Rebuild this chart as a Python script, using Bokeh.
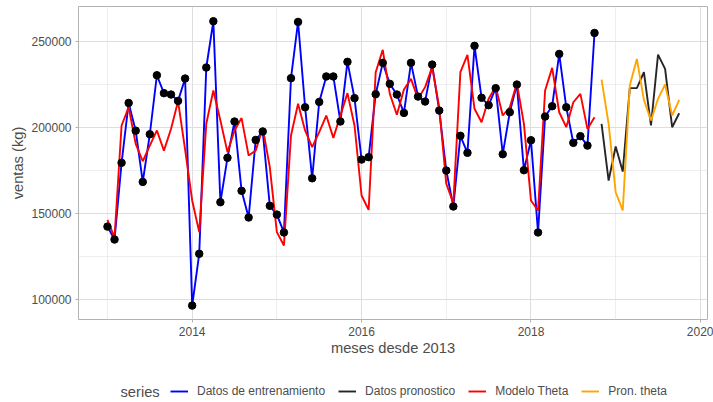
import numpy as np
from bokeh.plotting import figure
from bokeh.layouts import column
from bokeh.models import Range1d, FixedTicker, Legend, LegendItem, BasicTickFormatter
from bokeh.core.properties import value
from bokeh.embed import file_html
from bokeh.resources import INLINE

# Monthly series starting Jan 2013
anio_inicio = 2013
ventas_entrenamiento = [
    142200, 134700, 179300, 214100, 198000, 168200, 195900, 230200, 219800, 219000, 215300, 228300,
    96300, 126400, 234700, 261600, 156400, 182200, 203300, 163000, 147500, 192600, 197500, 154300,
    149200, 138800, 228500, 261200, 211600, 170300, 214700, 229500, 229500, 203300, 238000, 216900,
    181200, 182600, 219200, 237400, 225200, 219000, 208300, 237400, 217800, 214900, 236400, 209700,
    174800, 153900, 195000, 185100, 247300, 217100, 212800, 222700, 184300, 208700, 224800, 175000,
    192400, 138800, 206200, 212200, 242600, 211600, 190900, 194800, 189300, 254800,
]
modelo_theta = [
    146100, 136000, 201000, 211600, 190300, 180200, 189300, 198100, 186400, 199000, 215100, 187000,
    157400, 139000, 202000, 221300, 203900, 185500, 198100, 205300, 183500, 186400, 199600, 176700,
    139000, 131200, 195200, 213600, 198100, 188400, 197100, 206800, 193800, 206800, 219800, 201000,
    160300, 151900, 232000, 245000, 219400, 207200, 221900, 228100, 216500, 223300, 234900, 211600,
    167100, 155800, 232000, 242100, 210700, 202900, 216500, 223600, 206800, 211600, 225600, 201900,
    157400, 151600, 221300, 234500, 208700, 200000, 214500, 219400, 199000, 205800,
]
datos_pronostico = [201900, 169000, 188800, 174200, 222700, 222700, 232000, 201000, 242200, 233900, 200000, 208100]
pron_theta = [227700, 201900, 162200, 151600, 224200, 239700, 215900, 203900, 216500, 224800, 206800, 215900]

series_nombres = ["Datos de entrenamiento", "Datos pronostico", "Modelo Theta", "Pron. theta"]
series_colores = ["#0000ff", "#000000", "#ff0000", "#ffa500"]

x_ticks = [2014, 2016, 2018, 2020]
x_minor = [2013, 2015, 2017, 2019]
y_ticks = [100000, 150000, 200000, 250000]
y_minor = [125000, 175000, 225000]

n_tr = len(ventas_entrenamiento)
t_tr = anio_inicio + np.arange(n_tr) / 12.0
t_fc = anio_inicio + (n_tr + np.arange(len(datos_pronostico))) / 12.0

FONT = "Liberation Sans"
TXT = "#4d4d4d"
W = 713
H_MAIN = 360
H_LEG = 42
FL, FR = 78, 707  # frame left / right (screen px)

p = figure(width=W, height=H_MAIN, output_backend="svg", toolbar_location=None,
           x_range=Range1d(2012.658, 2020.084), y_range=Range1d(88200, 270175),
           min_border_left=FL, min_border_right=W - FR, min_border_top=6, min_border_bottom=H_MAIN - 319)
p.background_fill_color = "white"
p.border_fill_color = "white"
p.outline_line_color = "#b3b3b3"
p.outline_line_width = 1

xt = FixedTicker(ticks=x_ticks, minor_ticks=x_minor)
yt = FixedTicker(ticks=y_ticks, minor_ticks=y_minor)
p.xaxis.ticker = xt
p.yaxis.ticker = yt
p.xgrid.ticker = xt
p.ygrid.ticker = yt
p.yaxis.formatter = BasicTickFormatter(use_scientific=False)

for g in (p.xgrid, p.ygrid):
    g.grid_line_color = "#dedede"
    g.grid_line_width = 1
    g.minor_grid_line_color = "#e3e3e3"
    g.minor_grid_line_width = 0.6

for ax in (p.xaxis, p.yaxis):
    ax.axis_line_color = None
    ax.major_tick_line_color = "#b3b3b3"
    ax.major_tick_out = 3
    ax.major_tick_in = 0
    ax.minor_tick_line_color = None
    ax.major_label_text_font = FONT
    ax.major_label_text_font_size = "12px"
    ax.major_label_text_color = TXT
    ax.axis_label_text_font = FONT
    ax.axis_label_text_font_size = "14.7px"
    ax.axis_label_text_font_style = "normal"
    ax.axis_label_text_color = TXT
    ax.major_label_standoff = 3

p.xaxis.axis_label = "meses desde 2013"
p.yaxis.axis_label = "ventas (kg)"
p.xaxis.axis_label_standoff = 1
p.yaxis.axis_label_standoff = 2

p.line(t_tr, ventas_entrenamiento, line_color=series_colores[0], line_width=1.9)
p.line(t_tr, modelo_theta, line_color=series_colores[2], line_width=1.9)
p.line(t_fc, datos_pronostico, line_color=series_colores[1], line_width=1.9, line_alpha=0.85)
p.line(t_fc, pron_theta, line_color=series_colores[3], line_width=1.9)
p.scatter(t_tr, ventas_entrenamiento, size=7.5, color="black")

# legend strip (its frame gets aligned with the main frame, so map data units to screen px)
q = figure(width=W, height=H_LEG, output_backend="svg", toolbar_location=None,
           x_range=Range1d(FL, FR), y_range=Range1d(0, H_LEG),
           x_axis_location=None, y_axis_location=None,
           min_border_left=FL, min_border_right=W - FR, min_border_top=0, min_border_bottom=0)
q.outline_line_color = None
q.xgrid.visible = False
q.ygrid.visible = False
q.background_fill_color = "white"
q.border_fill_color = "white"

items = []
for nombre, col in zip(series_nombres, series_colores):
    # off-screen stub so the legend has a glyph to draw
    r = q.line([-50, -40], [-50, -50], line_color=col, line_width=1.9,
               line_alpha=0.85 if col == "#000000" else 1.0)
    items.append(LegendItem(label=nombre, renderers=[r]))

y_leg = H_LEG - (391 - H_MAIN)
q.text(x=[120], y=[y_leg], text=["series"], text_font=value(FONT), text_font_size="14.7px",
       text_color=TXT, text_baseline="middle", text_align="left")

legend = Legend(
    items=items, orientation="horizontal", location=(170 - FL, y_leg - 7),
    label_text_font=FONT, label_text_font_size="12px", label_text_color=TXT,
    glyph_width=18, glyph_height=14, label_standoff=9, spacing=13,
    label_height=14, padding=0, margin=0,
    background_fill_alpha=0, border_line_color=None,
)
q.add_layout(legend)

layout = column(p, q, spacing=0)
open("out.html", "w").write(file_html(layout, INLINE))
